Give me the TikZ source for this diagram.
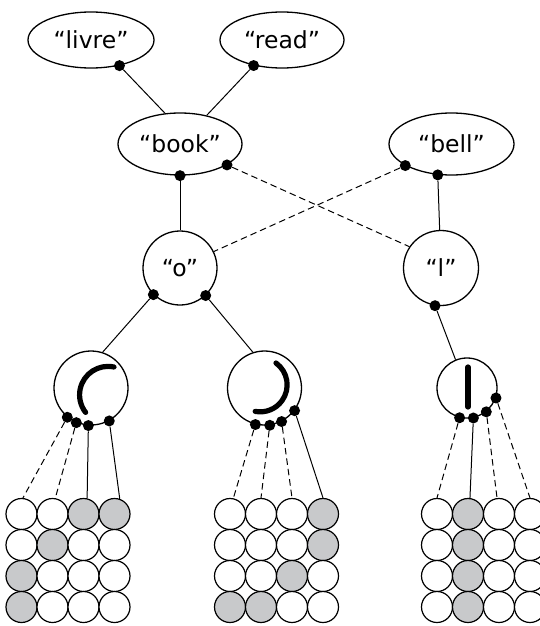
\documentclass[tikz,border=0pt]{standalone}
\usepackage{fontspec}
\setmainfont{DejaVu Sans}
\usetikzlibrary{shapes.geometric}
\definecolor{cellgray}{RGB}{200,201,203}

% grey units of the three feature grids
\foreach \n in {a13,a14,a22,a31,a41,b14,b24,b33,b41,b42,c12,c22,c32,c42}
  {\expandafter\gdef\csname graycell\n\endcsname{}}

\begin{document}
\begin{tikzpicture}[x=1pt,y=-1pt,
  word/.style={ellipse, draw, line width=1.3pt, inner sep=0pt,
    font=\fontsize{23.5}{26}\selectfont},
  letter/.style={circle, draw, line width=1.3pt, inner sep=0pt,
    font=\fontsize{23.5}{26}\selectfont},
  feature/.style={circle, draw, line width=1.3pt, inner sep=0pt},
  dot/.style={circle, fill=black, inner sep=0pt, minimum size=11pt},
  link/.style={line width=1pt},
  inhib/.style={line width=1pt, dash pattern=on 6.5pt off 4pt},
  stroke/.style={line width=5.2pt, line cap=round},
  cell/.style={circle, draw, line width=1.2pt, inner sep=0pt, minimum size=31pt}]

\useasboundingbox (0,0) rectangle (540,626);
\clip (0,0) rectangle (540,626);
\fill[white] (0,0) rectangle (540,626);

% word level
\node[word, minimum width=126pt, minimum height=56pt] (livre) at (91,40) {“livre”};
\node[word, minimum width=124pt, minimum height=56pt] (read) at (282,40) {“read”};
\node[word, minimum width=124pt, minimum height=62pt] (book) at (180,144) {“book”};
\node[word, minimum width=125pt, minimum height=62pt] (bell) at (451.5,144) {“bell”};

% letter level
\node[letter, minimum size=74pt] (o) at (180,268) {“o”};
\node[letter, minimum size=75pt] (l) at (441,268) {“l”};

% feature level
\node[feature, minimum size=74pt] (f1) at (91,388) {};
\node[feature, minimum size=74pt] (f2) at (264.5,388) {};
\node[feature, minimum size=60pt] (f3) at (467,388) {};

% strokes drawn in the feature units
\draw[stroke] (114,367) arc[start angle=-78, end angle=-218, radius=28.5];
\draw[stroke] (276,363) arc[start angle=-54, end angle=100.5, radius=27];
\draw[stroke] (468,367) -- (468,407);

% feature grids
\foreach \g/\xo in {a/21.5, b/230, c/437}
  \foreach \r in {1,...,4}
    \foreach \c in {1,...,4} {
      \ifcsname graycell\g\r\c\endcsname \def\cf{cellgray}\else \def\cf{white}\fi
      \node[cell, fill=\cf] (\g\r\c) at ({\xo+31*(\c-1)}, {514+31*(\r-1)}) {};
    }

% connection points
\node[dot] (livre-d) at (livre.-42.8) {};
\node[dot] (read-d) at (read.-138) {};
\node[dot] (book-d1) at (book.south) {};
\node[dot] (book-d2) at (book.-24.5) {};
\node[dot] (bell-d1) at (bell.-155.5) {};
\node[dot] (bell-d2) at (bell.-114) {};
\node[dot] (o-d1) at (o.225) {};
\node[dot] (o-d2) at (o.-47) {};
\node[dot] (l-d) at (l.-99) {};
\foreach \a [count=\i] in {231,247,266,299}
  \node[dot] (f1-d\i) at (f1.\a) {};
\foreach \a [count=\i] in {256,278.5,297,323}
  \node[dot] (f2-d\i) at (f2.\a) {};
\foreach \a [count=\i] in {256,282,309,341}
  \node[dot] (f3-d\i) at (f3.\a) {};

% word to word
\draw[link] (livre-d) -- (book.116);
\draw[link] (read-d) -- (book.47);

% word to letter
\draw[link] (book-d1) -- (o);
\draw[inhib] (book-d2) -- (l.146);
\draw[inhib] (bell-d1) -- (o.26);
\draw[link] (bell-d2) -- (l);

% letter to feature
\draw[link] (o-d1) -- (f1.72);
\draw[link] (o-d2) -- (f2.108);
\draw[link] (l-d) -- (f3.112);

% feature to grid
\draw[inhib] (f1-d1) -- (a11.85);
\draw[inhib] (f1-d2) -- (a12.80);
\draw[link] (f1-d3) -- (a13.77);
\draw[link] (f1-d4) -- (a14.71);

\draw[inhib] (f2-d1) -- (b11.78);
\draw[inhib] (f2-d2) -- (b12.90);
\draw[inhib] (f2-d3) -- (b13.90);
\draw[link] (f2-d4) -- (b14.90);

\draw[inhib] (f3-d1) -- (c11.90);
\draw[link] (f3-d2) -- (c12.83);
\draw[inhib] (f3-d3) -- (c13.97);
\draw[inhib] (f3-d4) -- (c14.90);
\end{tikzpicture}
\end{document}
